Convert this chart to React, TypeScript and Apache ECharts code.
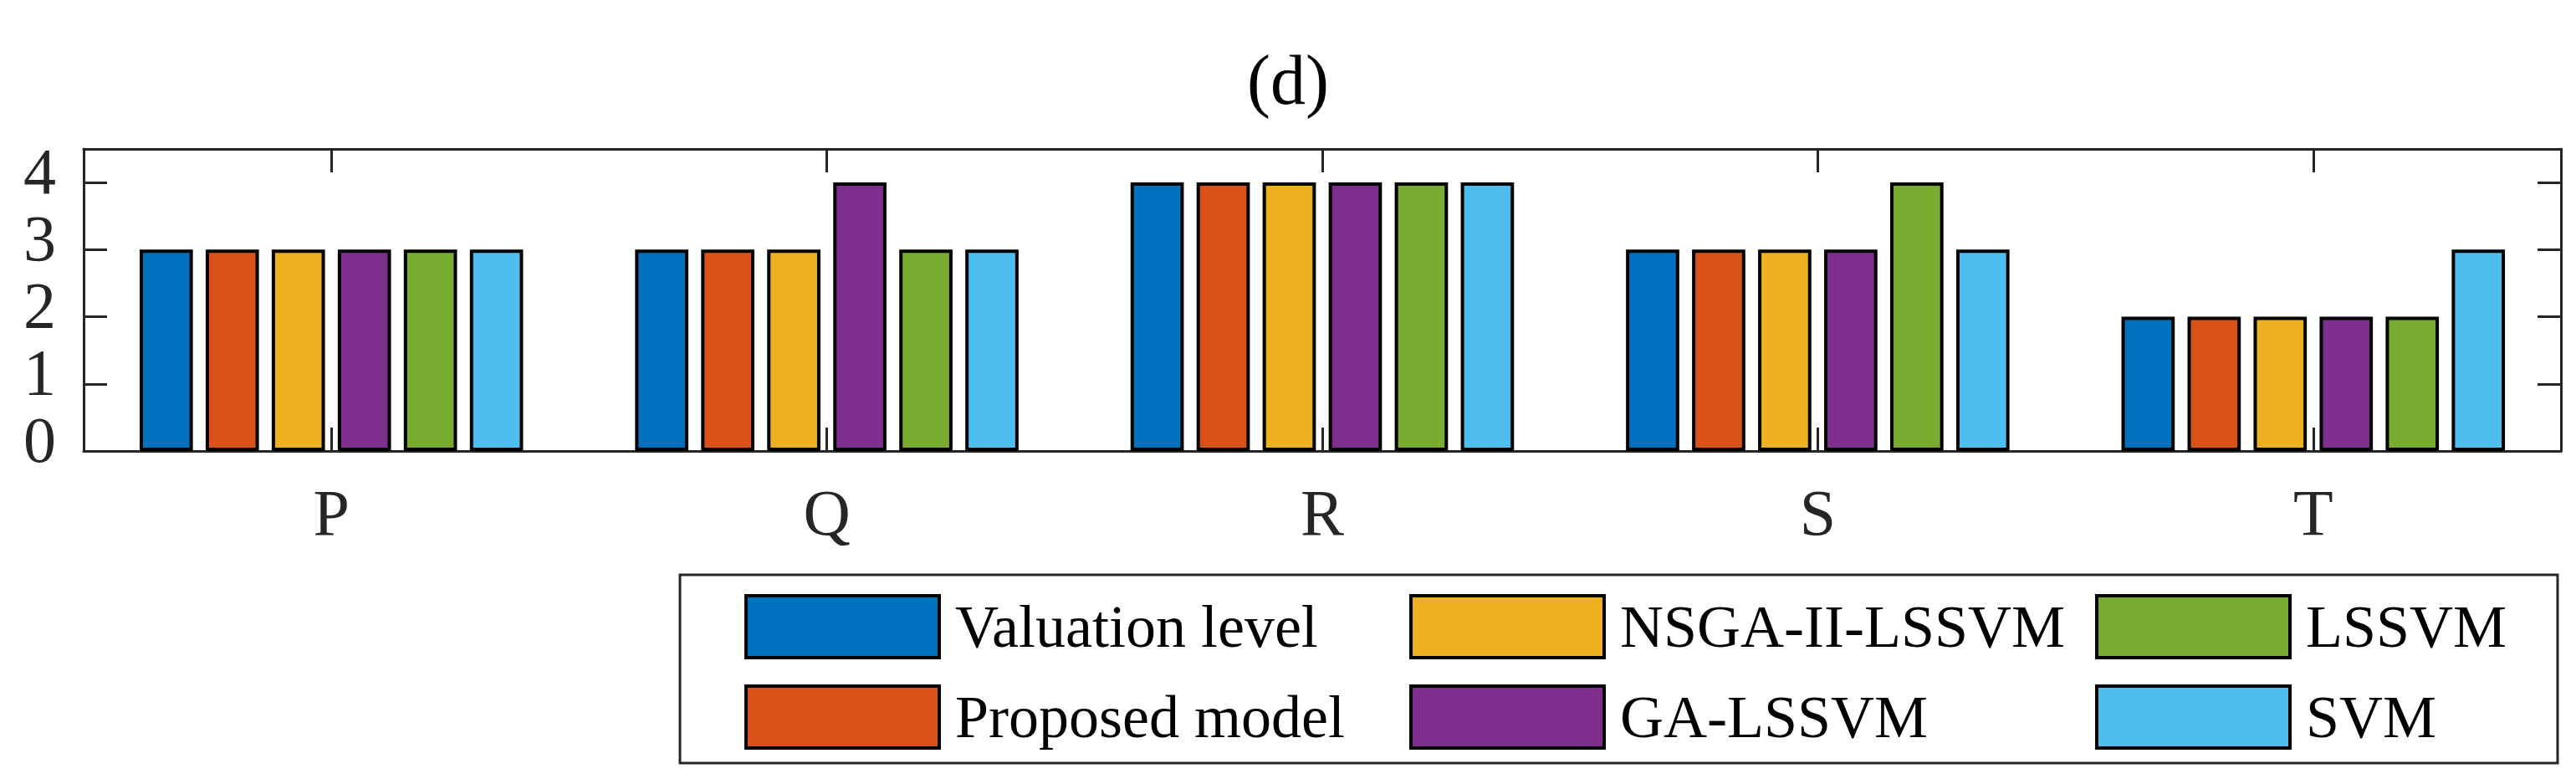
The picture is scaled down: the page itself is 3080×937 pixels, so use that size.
import React, { useEffect, useRef } from "react";
import * as echarts from "echarts";

const categories = ["P", "Q", "R", "S", "T"];
const seriesNames = ["Valuation level", "Proposed model", "NSGA-II-LSSVM", "GA-LSSVM", "LSSVM", "SVM"];
const valuationLevel = [3, 3, 4, 3, 2];
const proposedModel = [3, 3, 4, 3, 2];
const nsgaIILssvm = [3, 3, 4, 3, 2];
const gaLssvm = [3, 4, 4, 3, 2];
const lssvm = [3, 3, 4, 4, 2];
const svm = [3, 3, 4, 3, 3];
const yTicks = [0, 1, 2, 3, 4];
const colors = ["#0072BD", "#D95319", "#EDB120", "#7E2F8E", "#77AC30", "#4DBEEE"];
const title = "(d)";

const FONT = "'Liberation Serif', 'Times New Roman', serif";
const AX = "#262626";

export default function App() {
  const ref = useRef<HTMLDivElement>(null);
  useEffect(() => {
    if (!ref.current) return;
    const chart = echarts.init(ref.current, null, { renderer: "svg" });
    const values = [valuationLevel, proposedModel, nsgaIILssvm, gaLssvm, lssvm, svm];
    const axisLine = { show: true, onZero: false, lineStyle: { color: AX, width: 3 } };
    const tick = { show: true, inside: true, length: 28, lineStyle: { color: AX, width: 3 } };
    const legendCommon = {
      orient: "vertical",
      top: 710,
      padding: 0,
      itemWidth: 231,
      itemHeight: 74,
      itemGap: 30,
      icon: "rect",
      selectedMode: false,
      itemStyle: { borderColor: "#000", borderWidth: 4 },
      textStyle: { fontFamily: FONT, fontSize: 72, color: "#000", padding: [0, 0, 14, 14] },
    };
    chart.setOption({
      animation: false,
      backgroundColor: "#fff",
      title: {
        text: title,
        left: "center",
        top: 48,
        textStyle: { fontFamily: FONT, fontSize: 84, fontWeight: "normal", color: "#000" },
      },
      grid: { left: 100, right: 18, top: 178, height: 361, containLabel: false },
      legend: [
        { ...legendCommon, left: 890, data: [seriesNames[0], seriesNames[1]] },
        { ...legendCommon, left: 1685, data: [seriesNames[2], seriesNames[3]] },
        { ...legendCommon, left: 2505, data: [seriesNames[4], seriesNames[5]] },
      ],
      graphic: [
        {
          type: "rect",
          shape: { x: 813, y: 687, width: 2245, height: 225 },
          style: { fill: "none", stroke: AX, lineWidth: 3 },
          silent: true,
        },
      ],
      xAxis: [
        {
          type: "category",
          data: categories,
          position: "bottom",
          axisLine,
          axisTick: { ...tick, alignWithLabel: true },
          axisLabel: { fontFamily: FONT, fontSize: 78, color: AX, margin: 34 },
          splitLine: { show: false },
        },
        {
          type: "category",
          data: categories,
          position: "top",
          axisLine,
          axisTick: { ...tick, alignWithLabel: true },
          axisLabel: { show: false },
          splitLine: { show: false },
        },
      ],
      yAxis: [
        {
          type: "value",
          min: 0,
          max: 4.5,
          interval: 1,
          position: "left",
          axisLine,
          axisTick: { ...tick, customValues: yTicks },
          axisLabel: {
            customValues: yTicks,
            formatter: (v: number) => (Number.isInteger(v) ? String(v) : ""),
            fontFamily: FONT,
            fontSize: 78,
            color: AX,
            margin: 33,
            verticalAlign: "bottom",
            lineHeight: 28,
          },
          splitLine: { show: false },
        },
        {
          type: "value",
          min: 0,
          max: 4.5,
          interval: 1,
          position: "right",
          axisLine,
          axisTick: { ...tick, customValues: yTicks },
          axisLabel: { show: false },
          splitLine: { show: false },
        },
      ],
      series: seriesNames.map((name, i) => ({
        name,
        type: "bar",
        data: values[i],
        barWidth: "10.75%",
        barGap: "24%",
        itemStyle: { color: colors[i], borderColor: "#000", borderWidth: 4 },
      })),
    });
    return () => chart.dispose();
  }, []);
  return (
    <div
      ref={ref}
      style={{ position: "absolute", left: 0, top: 0, width: 3080, height: 937 }}
    />
  );
}
